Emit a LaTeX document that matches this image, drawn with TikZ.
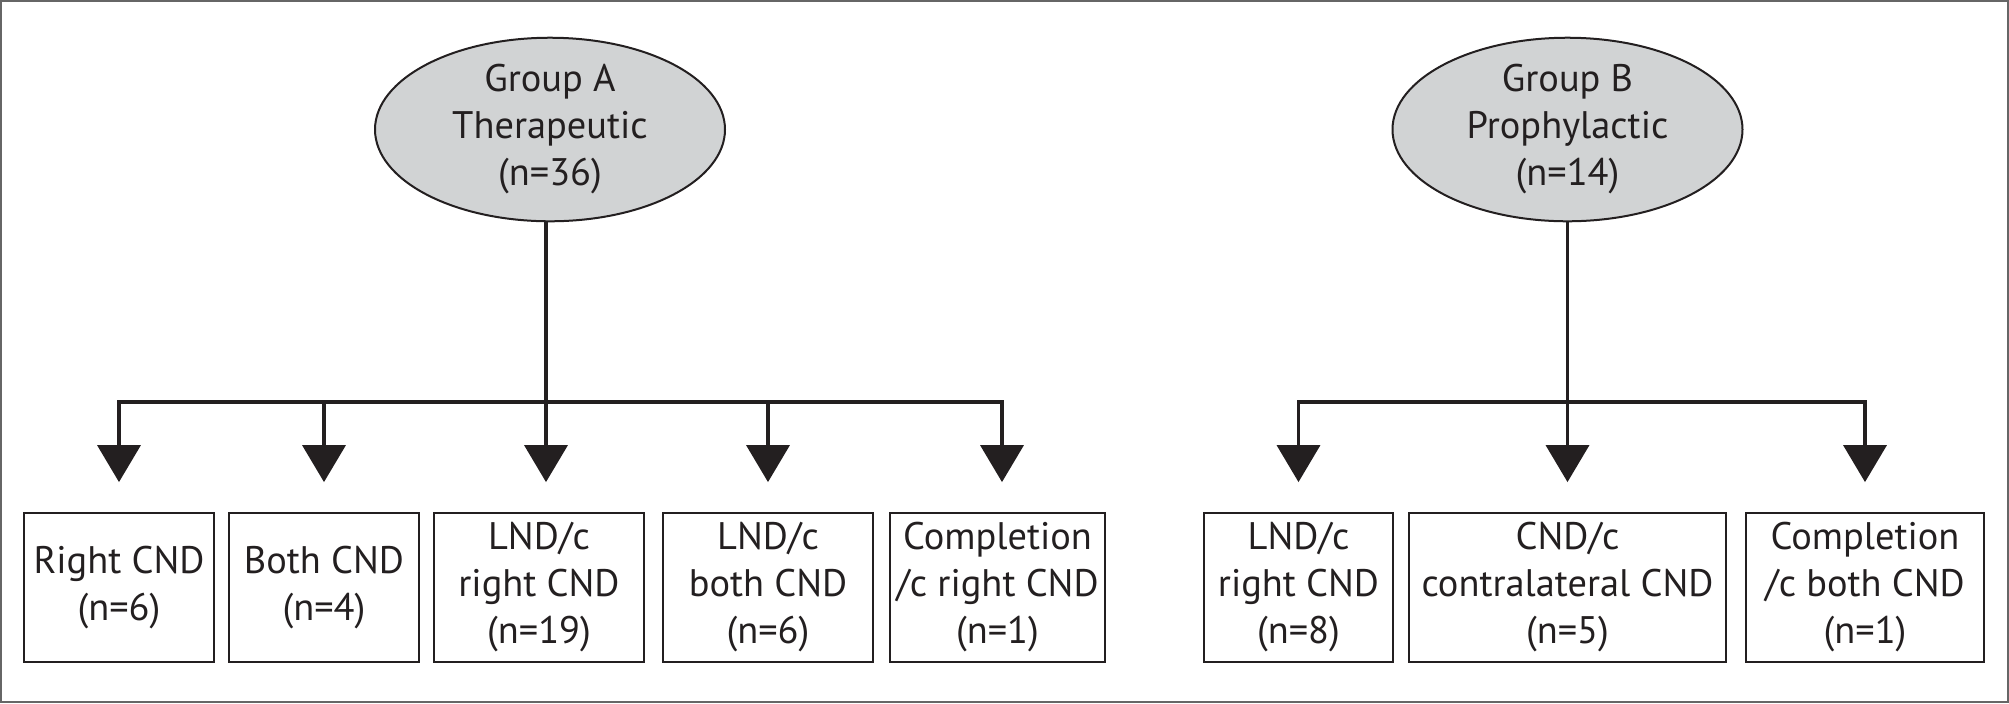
\documentclass[tikz,border=0pt]{standalone}
\usepackage{fontspec}
\setmainfont{PT Sans}
\usetikzlibrary{arrows.meta,shapes.geometric}
\definecolor{grayfill}{HTML}{D1D3D4}
\definecolor{ink}{HTML}{231F20}
\begin{document}
\begin{tikzpicture}[x=0.5pt,y=-0.5pt,
  every node/.style={font=\fontsize{19.2}{23.5}\selectfont, align=center, text=ink},
  grp/.style={ellipse, draw=ink, line width=1pt, fill=grayfill, minimum width=175pt, minimum height=84.5pt, inner sep=0pt},
  leaf/.style={rectangle, draw=ink, line width=0.9pt, inner sep=0pt, minimum height=74.5pt},
  link/.style={line width=1.85pt, draw=ink},
  arr/.style={link, -{Triangle[width=21.5pt,length=18.5pt]}, shorten >=15pt}
]
\useasboundingbox (0,0) rectangle (2009,703);
\draw[black!60, line width=1pt] (1,1) rectangle (2008,702);

% Group A
\node[grp] (gA) at (550,129.5) {Group A\\Therapeutic\\(n=36)};
\node[leaf, minimum width=95pt]   (a1) at (119,587.5)   {Right CND\\(n=6)};
\node[leaf, minimum width=95pt]   (a2) at (324,587.5)   {Both CND\\(n=4)};
\node[leaf, minimum width=105pt]  (a3) at (539,587.5)   {LND/c\\right CND\\(n=19)};
\node[leaf, minimum width=105pt]  (a4) at (768,587.5)   {LND/c\\both CND\\(n=6)};
\node[leaf, minimum width=107.5pt](a5) at (997.5,587.5) {Completion\\/c right CND\\(n=1)};
\coordinate (ja) at (546,402);
\coordinate (ea) at (1002,402);
\draw[arr] (ja |- gA.south) -- (ja |- a3.north);
\draw[arr] (ja) -| (a1.north);
\draw[arr] (ja) -- (ea) -- (ea |- a5.north);
\draw[arr] (a2.north |- ja) -- (a2.north);
\draw[arr] (a4.north |- ja) -- (a4.north);

% Group B
\node[grp] (gB) at (1567.5,129.5) {Group B\\Prophylactic\\(n=14)};
\node[leaf, minimum width=94.5pt] (b1) at (1298.5,587.5) {LND/c\\right CND\\(n=8)};
\node[leaf, minimum width=158.5pt](b2) at (1567.5,587.5) {CND/c\\contralateral CND\\(n=5)};
\node[leaf, minimum width=119pt]  (b3) at (1865,587.5)   {Completion\\/c both CND\\(n=1)};
\coordinate (jb) at (1567.5,402);
\draw[arr] (gB.south) -- (gB.south |- b2.north);
\draw[arr] (jb) -| (b1.north);
\draw[arr] (jb) -| (b3.north);
\end{tikzpicture}
\end{document}
